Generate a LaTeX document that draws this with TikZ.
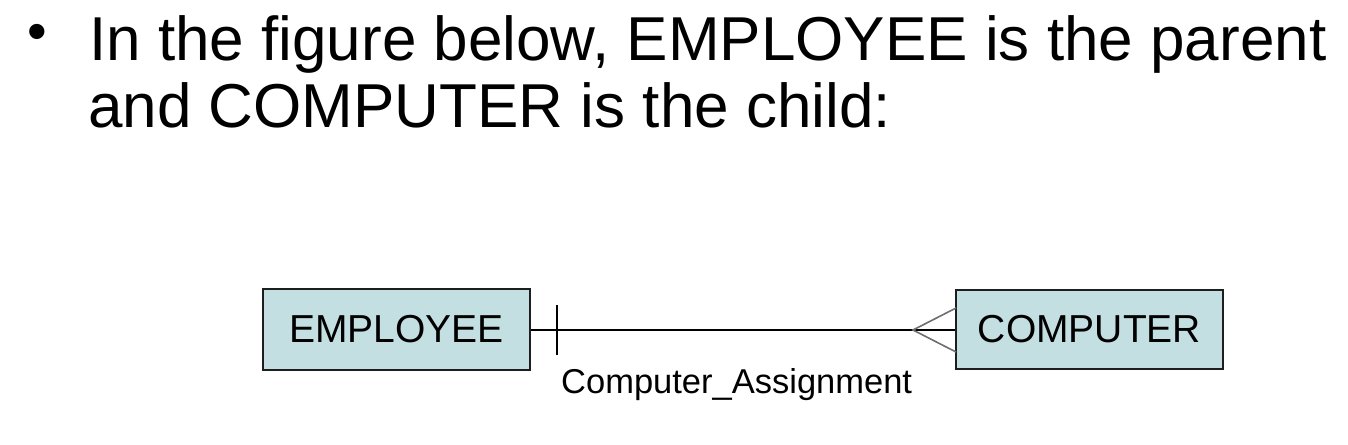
\documentclass[tikz,border=0pt]{standalone}
\usepackage{fontspec}
\setmainfont{Liberation Sans}
\definecolor{boxfill}{RGB}{196,223,226}
\definecolor{boxdraw}{RGB}{30,30,30}
\definecolor{footgray}{RGB}{110,110,110}
\begin{document}
\begin{tikzpicture}[x=1pt,y=-1pt,
  entity/.style={draw=boxdraw,line width=2pt,fill=boxfill,inner sep=0pt,
    font=\fontsize{39}{44}\selectfont},
  title/.style={inner sep=0pt,anchor=base west,font=\fontsize{62}{67}\selectfont},
  rel/.style={line width=2pt,black},
  foot/.style={line width=1.6pt,footgray}]
\useasboundingbox (0,0) rectangle (1348,444);
% title
\node[inner sep=0pt,font=\fontsize{56}{60}\selectfont] (bullet) at (37,37) {•};
\node[title] (line1) at (89,60) {In the figure below, EMPLOYEE is the parent};
\node[title] (line2) at (88,127) {and COMPUTER is the child:};
% entities
\node[entity,minimum width=267pt,minimum height=81pt] (emp) at (396.5,329.5) {EMPLOYEE};
\node[entity,minimum width=267pt,minimum height=79pt] (comp) at (1089.5,329.5) {COMPUTER};
% relationship line
\draw[rel] (emp.east) -- (comp.west);
% one mark
\coordinate (t1) at (557,305);
\coordinate (t2) at (557,355);
\draw[rel] (t1) -- (t2);
% crow's foot
\coordinate (apex) at (913,330);
\coordinate (ftop) at (956,308);
\coordinate (fbot) at (956,352);
\draw[foot] (ftop) -- (apex) -- (fbot);
% label
\node[inner sep=0pt,anchor=base west,font=\fontsize{34.5}{38}\selectfont] (lab) at (561,393) {Computer\_Assignment};
\end{tikzpicture}
\end{document}
